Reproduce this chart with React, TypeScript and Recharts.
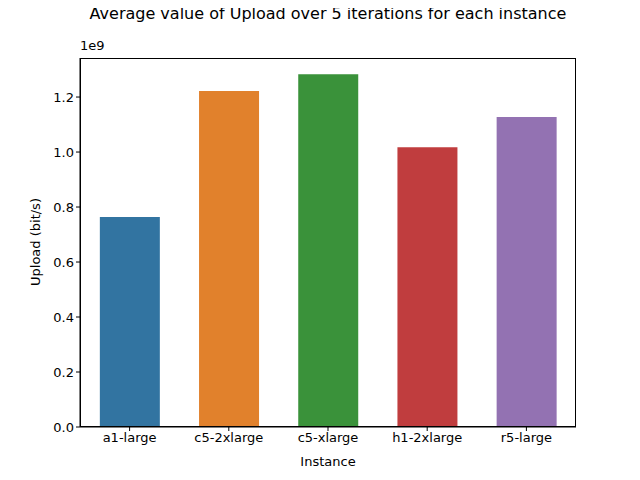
import { BarChart, Bar, XAxis, YAxis, Cell } from "recharts";

const instances = ["a1-large", "c5-2xlarge", "c5-xlarge", "h1-2xlarge", "r5-large"];
const uploads = [0.764e9, 1.222e9, 1.283e9, 1.017e9, 1.127e9];
const colors = ["#3274a1", "#e1812c", "#3a923a", "#c03d3e", "#9372b2"];
const yTicks = [0, 0.2e9, 0.4e9, 0.6e9, 0.8e9, 1.0e9, 1.2e9];

const data = instances.map((name, i) => ({ name, value: uploads[i] }));
const font = "DejaVu Sans, sans-serif";

export default function App() {
  return (
    <div style={{ position: "relative", width: 640, height: 480, margin: -8, background: "#fff", fontFamily: font }}>
      <BarChart width={640} height={480} data={data} barCategoryGap="20%"
        margin={{ top: 58, right: 64, left: 0, bottom: 0 }}>
        <XAxis dataKey="name" height={53} tick={{ fontSize: 13, fill: "#000", fontFamily: font }}
          tickSize={4} tickLine={{ stroke: "#000" }} axisLine={{ stroke: "#000" }} />
        <YAxis width={80} domain={[0, 1.342e9]} ticks={yTicks} tickFormatter={(v: number) => (v / 1e9).toFixed(1)}
          tick={{ fontSize: 13, fill: "#000", fontFamily: font }} tickSize={4}
          tickLine={{ stroke: "#000" }} axisLine={{ stroke: "#000" }} />
        <Bar dataKey="value" isAnimationActive={false}>
          {data.map((d, i) => <Cell key={d.name} fill={colors[i]} />)}
        </Bar>
      </BarChart>
      <div style={{ position: "absolute", left: 80, top: 58, width: 496, height: 369, border: "1px solid #000", boxSizing: "border-box", pointerEvents: "none" }} />
      <div style={{ position: "absolute", left: 0, width: 656, top: 4, textAlign: "center", fontSize: 16 }}>
        Average value of Upload over 5 iterations for each instance
      </div>
      <div style={{ position: "absolute", left: 80, top: 38, fontSize: 13 }}>1e9</div>
      <div style={{ position: "absolute", left: 0, width: 656, top: 454, textAlign: "center", fontSize: 13 }}>Instance</div>
      <div style={{ position: "absolute", left: 35, top: 242, fontSize: 13, transform: "translate(-50%, -50%) rotate(-90deg)", whiteSpace: "nowrap" }}>
        Upload (bit/s)
      </div>
    </div>
  );
}
